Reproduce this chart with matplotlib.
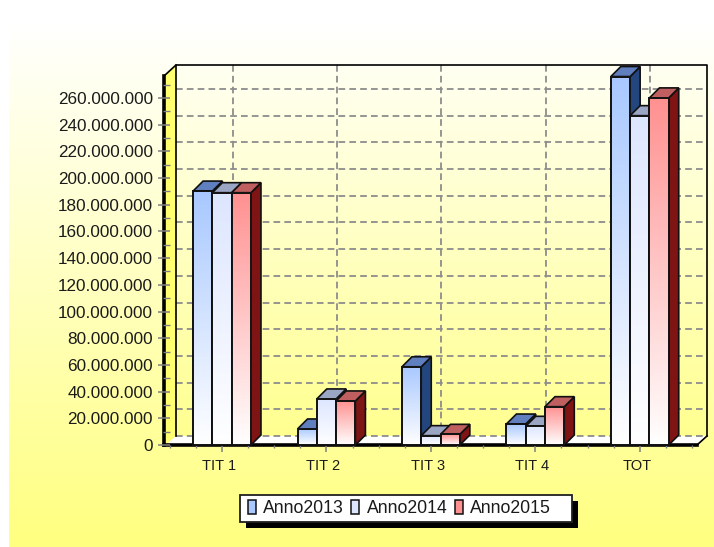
import numpy as np
import matplotlib
matplotlib.use('Agg')
import matplotlib.pyplot as plt
from matplotlib.colors import LinearSegmentedColormap
from matplotlib.patches import Polygon, Rectangle
from matplotlib.ticker import MultipleLocator
from matplotlib.transforms import ScaledTranslation

categories = ['TIT 1', 'TIT 2', 'TIT 3', 'TIT 4', 'TOT']
anno2013 = [190200000, 12000000, 58600000, 15700000, 276000000]
anno2014 = [189000000, 34500000, 7000000, 14000000, 246700000]
anno2015 = [189000000, 33000000, 8000000, 28700000, 260000000]
series_names = ['Anno2013', 'Anno2014', 'Anno2015']
y_ticks = list(range(0, 260000001, 20000000))

front_colors = ['#A8C8FF', '#DDE6FF', '#FF9090']
top_colors = ['#5F7FBF', '#9AA6C4', '#BF5F5F']
side_colors = ['#24467F', '#5F6A8F', '#7F1414']
grid_color = '#8C8C8C'
dash = (0, (3.7, 2.3))

W, H = 714, 547
plt.rcParams['font.family'] = ['Liberation Sans', 'DejaVu Sans']
fig = plt.figure(figsize=(W / 100, H / 100), dpi=100, facecolor='white')

# background layer in pixels, y going down
bg = fig.add_axes([0, 0, 1, 1], zorder=0)
bg.set_xlim(0, W)
bg.set_ylim(H, 0)
bg.axis('off')


def vgrad(c1, c2):
    return LinearSegmentedColormap.from_list('g', [c1, c2])


ramp = np.linspace(0, 1, 256).reshape(-1, 1)
bg.imshow(ramp, extent=(9, W, H, 22), cmap=vgrad('#FFFFFF', '#FFFF80'), aspect='auto', zorder=1)
bg.imshow(ramp, extent=(176, 707, 436, 65), cmap=vgrad('#FFFFF2', '#FFFF90'), aspect='auto', zorder=2)
bg.set_xlim(0, W)
bg.set_ylim(H, 0)

bg.add_patch(Polygon([(164, 76), (176, 65), (176, 436), (164, 445)], fc='#FFFF70', ec='none', zorder=3))
bg.add_patch(Polygon([(166, 445), (176, 436), (706, 436), (697, 445)], fc='white', ec='none', zorder=3))

# front plane: 0 at y=445, 26.7 px for every 20 million
px_per_val = 26.7 / 20000000
px_per_cat = 104.44
ax_left, ax_right = 169.8, 169.8 + 5 * px_per_cat
ax = fig.add_axes([ax_left / W, (H - 445) / H, (ax_right - ax_left) / W, 369 / H], zorder=1)
ax.patch.set_alpha(0)
for s in ax.spines.values():
    s.set_visible(False)
ax.set_xlim(-0.5, 4.5)
ax.set_ylim(0, 369 / px_per_val)

depth_x = 10 / px_per_cat
depth_y = 10 / px_per_val
bar_w = 19.3 / px_per_cat
start = -1.5 * bar_w

# back wall grid, shifted to the back of the box
wall_dx = 10.5
wall_dy = 9
for t in y_ticks:
    y = 445 - t * px_per_val - wall_dy
    bg.plot([176, 707], [y, y], color=grid_color, lw=1.3, ls=dash, zorder=4)
for i in range(len(categories)):
    x = ax_left + (i + 0.5) * px_per_cat + wall_dx
    bg.plot([x, x], [65, 436], color=grid_color, lw=1.3, ls=dash, zorder=4)
bg.plot([176, 176, 707, 707], [436, 65, 65, 436], color='black', lw=1.2, zorder=5)
bg.plot([176, 164], [65, 76], color='black', lw=1.2, zorder=5)
bg.plot([707, 697], [436, 445], color='black', lw=1.2, zorder=5)
bg.plot([164, 164], [76, 445], color='black', lw=2.6, zorder=5)
bg.plot([164, 697], [445, 445], color='black', lw=2.6, zorder=5)

series = [anno2013, anno2014, anno2015]
z = 3
for c in range(len(categories)):
    for s, values in enumerate(series):
        x0 = c + start + s * bar_w
        x1 = x0 + bar_w
        v = values[c]
        ax.add_patch(Polygon([(x1, 0), (x1 + depth_x, depth_y), (x1 + depth_x, v + depth_y), (x1, v)],
                             fc=side_colors[s], ec='#101010', lw=1.2, zorder=z, clip_on=False))
        ax.add_patch(Polygon([(x0, v), (x0 + depth_x, v + depth_y), (x1 + depth_x, v + depth_y), (x1, v)],
                             fc=top_colors[s], ec='#101010', lw=1.2, zorder=z, clip_on=False))
        ax.imshow(ramp, extent=(x0, x1, 0, v), cmap=vgrad(front_colors[s], '#FFFFFF'),
                  aspect='auto', zorder=z, clip_on=False)
        ax.add_patch(Rectangle((x0, 0), bar_w, v, fc='none', ec='#101010', lw=1.4, zorder=z, clip_on=False))
        z += 1
ax.set_xlim(-0.5, 4.5)
ax.set_ylim(0, 369 / px_per_val)

ax.set_xticks(range(len(categories)))
ax.set_xticklabels(categories)
ax.xaxis.set_minor_locator(MultipleLocator(0.25))
ax.set_yticks(y_ticks)
ax.set_yticklabels([f'{t:,}'.replace(',', '.') for t in y_ticks])
ax.yaxis.set_minor_locator(MultipleLocator(10000000))
ax.tick_params(axis='y', which='major', length=8.6, width=1.1, color='#808080', labelsize=12.3,
               pad=3.6, labelcolor='#1A1A1A')
ax.tick_params(axis='y', which='minor', length=5, width=1, color='#808080')
ax.tick_params(axis='x', which='major', length=5, width=1.1, color='#808080', labelsize=10.5,
               pad=5, labelcolor='#1A1A1A')
ax.tick_params(axis='x', which='minor', length=2.5, width=1, color='#808080')

# labels sit 3 px left of their ticks in the original
shift = ScaledTranslation(-3 / 100, 0, fig.dpi_scale_trans)
for lab in ax.get_xticklabels():
    lab.set_transform(lab.get_transform() + shift)

# legend box with a hard black shadow
bg.add_patch(Rectangle((246, 501), 332, 27, fc='black', ec='none', zorder=6))
bg.add_patch(Rectangle((240, 495), 332, 27, fc='white', ec='#202020', lw=1.3, zorder=7))
handles = [Rectangle((0, 0), 1, 1, fc=front_colors[i], ec='#101010', lw=1.1) for i in range(3)]
leg = fig.legend(handles, series_names, loc='center left', bbox_to_anchor=(248 / W, (H - 508.5) / H),
                 ncol=3, fontsize=12.7, frameon=False,
                 handlelength=0.46, handleheight=0.8, handletextpad=0.4, columnspacing=0.42,
                 borderpad=0, borderaxespad=0)
leg.set_zorder(10)
for t in leg.get_texts():
    t.set_color('#1A1A1A')

fig.savefig('out.png', dpi=100)
